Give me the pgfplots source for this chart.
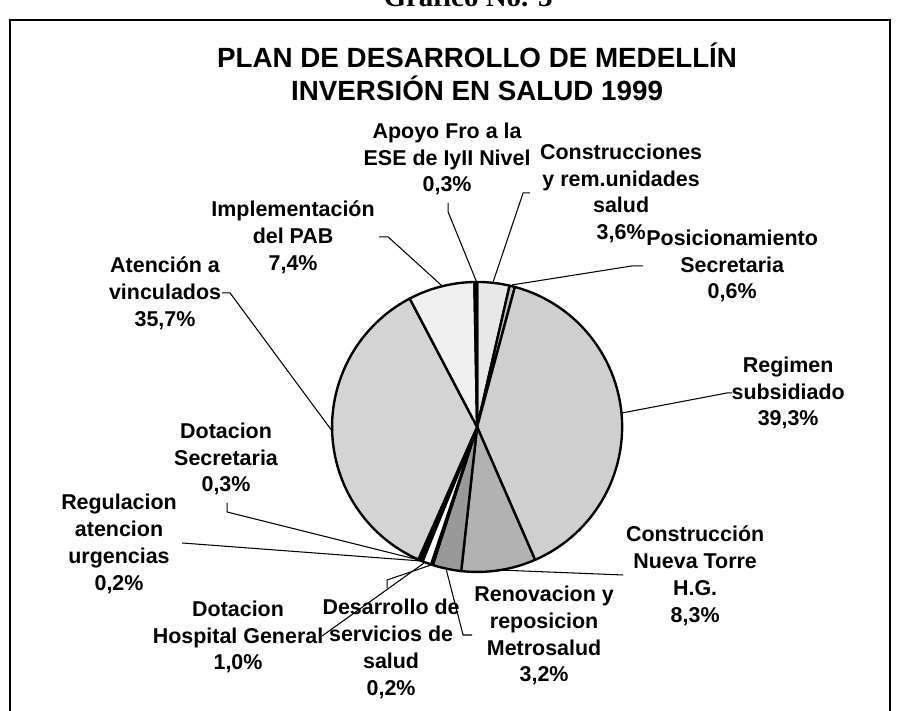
\documentclass[border=0pt]{standalone}
\usepackage{fontspec}
\setmainfont{Liberation Sans}
\newfontfamily\serifb{Liberation Serif}
\usepackage{pgfplots}
\pgfplotsset{compat=1.18}
\usepackage{pgfplotstable}

% slices clockwise from 12 o'clock: percent, grey level (percent black)
\pgfplotstableread{
pct g
3.6 9
0.6 25
39.3 19
8.3 30
3.2 40
0.2 60
1.0 0
0.2 60
0.3 60
35.7 17
7.4 6
0.3 0
}\piedata

\newcommand\lab{\fontsize{12.2pt}{15.3pt}\selectfont\bfseries}
\newcommand\ttl{\fontsize{15.8pt}{19.2pt}\selectfont\bfseries}

\begin{document}
\begin{tikzpicture}
\path[use as bounding box] (0,0) rectangle (18.02cm,14.2cm);
\clip (0,0) rectangle (18.02cm,14.2cm);
\begin{axis}[at={(0,0)}, anchor=south west, x=0.02cm, y=0.02cm,
  xmin=0, xmax=901, ymin=0, ymax=710, y dir=reverse, hide axis, clip=false]

% frame
\draw[line width=1.1pt] (10,712) -- (10,20) -- (890,20) -- (890,712);

% chart number (cut off at top, as in the reference)
\node[anchor=base, font=\serifb\fontsize{16.5pt}{19pt}\selectfont\bfseries] at (468,6.5) {Gráfico No. 3};

% title
\node[align=center, font=\ttl, inner sep=0pt] at (477,72) {PLAN DE DESARROLLO DE MEDELLÍN\\INVERSIÓN EN SALUD 1999};

% pie
\def\cum{0}
\pgfplotsforeachungrouped \i in {0,...,11}{%
  \pgfplotstablegetelem{\i}{pct}\of\piedata \let\p\pgfplotsretval
  \pgfplotstablegetelem{\i}{g}\of\piedata \let\g\pgfplotsretval
  \pgfmathsetmacro\a{90-\cum*3.596404}%
  \pgfmathsetmacro\cum{\cum+\p}%
  \pgfmathsetmacro\b{90-\cum*3.596404}%
  \edef\cmd{\noexpand\addplot[draw=black, line width=1.35pt, line join=round, fill=black!\g] coordinates {(477,427)} -- ++(\a:2.9cm) arc[start angle=\a, end angle=\b, radius=2.9cm] -- cycle;}%
  \cmd
}

% leader lines
\begin{scope}[line width=0.6pt]
\draw (476.5,282) -- (448,212) -- (448,203);
\draw (493,282) -- (523,193) -- (530,193);
\draw (512,285) -- (632,266) -- (643,266);
\draw (622,413) -- (727,393) -- (732,393);
\draw (498,570) -- (623,575);
\draw (446,569) -- (463,635) -- (472,635);
\draw (431,565) -- (387,580) -- (387,588);
\draw (424,563) -- (322,636);
\draw (421,561) -- (182,543);
\draw (419,560) -- (227,512) -- (227,503);
\draw (332,431) -- (230,293) -- (222,293);
\draw (442,286) -- (388,237) -- (379,237);
\end{scope}

% labels
\begin{scope}[every node/.style={align=center, font=\lab, inner sep=0pt}]
\node at (447,159) {Apoyo Fro a la\\ESE de IyII Nivel\\0,3\%};
\node at (621,193.5) {Construcciones\\y rem.unidades\\salud\\3,6\%};
\node at (732,266) {Posicionamiento\\Secretaria\\0,6\%};
\node at (788,393) {Regimen\\subsidiado\\39,3\%};
\node at (695,575.5) {Construcción\\Nueva Torre\\H.G.\\8,3\%};
\node at (544,635.5) {Renovacion y\\reposicion\\Metrosalud\\3,2\%};
\node at (391,649) {Desarrollo de\\servicios de\\salud\\0,2\%};
\node at (238,637) {Dotacion\\Hospital General\\1,0\%};
\node at (119,544) {Regulacion\\atencion\\urgencias\\0,2\%};
\node at (226,459) {Dotacion\\Secretaria\\0,3\%};
\node at (165,293) {Atención a\\vinculados\\35,7\%};
\node at (293,237) {Implementación\\del PAB\\7,4\%};
\end{scope}
\end{axis}
\end{tikzpicture}
\end{document}
